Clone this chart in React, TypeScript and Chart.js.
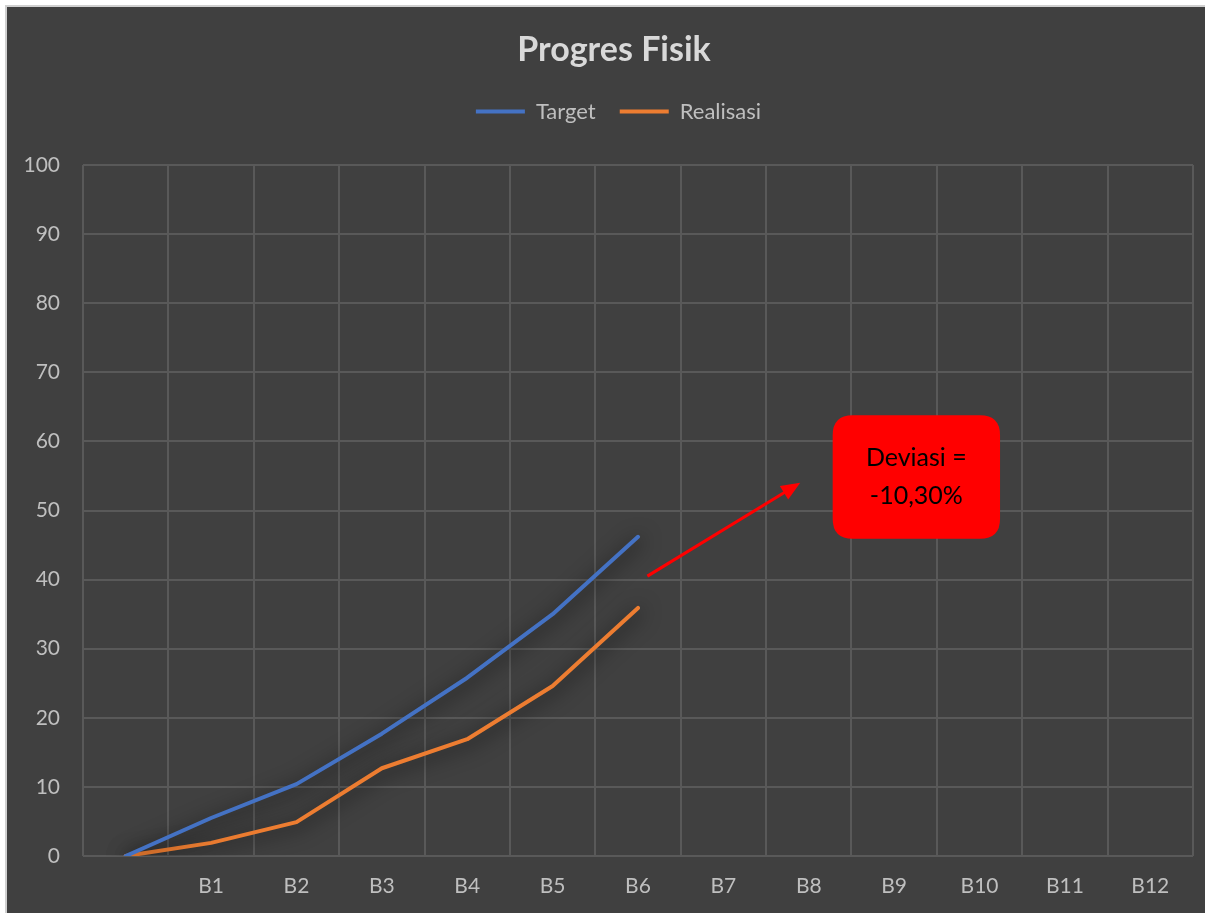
import { useEffect, useRef } from 'react';
import { Chart, registerables } from 'chart.js';

Chart.register(...registerables);

const CATEGORIES = ['', 'B1', 'B2', 'B3', 'B4', 'B5', 'B6', 'B7', 'B8', 'B9', 'B10', 'B11', 'B12'];
const TARGET = [0, 5.5, 10.4, 17.7, 25.8, 35.0, 46.2];
const REALISASI = [0, 1.9, 4.9, 12.7, 16.9, 24.6, 35.9];
const SERIES_NAMES = ['Target', 'Realisasi'];
const SERIES_COLORS = ['#4472C4', '#ED7D31'];
const TITLE = 'Progres Fisik';
const Y_MIN = 0;
const Y_MAX = 100;
const Y_STEP = 10;

const FONT = 'Lato, "Open Sans", sans-serif';

const W = 1198;
const H = 906;

function deviationText(): string[] {
  const t = TARGET[TARGET.length - 1];
  const r = REALISASI[REALISASI.length - 1];
  const d = (r - t).toFixed(2).replace('.', ',');
  return ['Deviasi =', d + '%'];
}

const shadowPlugin = {
  id: 'lineShadow',
  beforeDatasetDraw(chart: any) {
    const ctx = chart.ctx;
    ctx.save();
    ctx.shadowColor = 'rgba(0,0,0,0.85)';
    ctx.shadowBlur = 20;
    ctx.shadowOffsetX = 2;
    ctx.shadowOffsetY = 3;
  },
  afterDatasetDraw(chart: any) {
    chart.ctx.restore();
  },
};

const placePlugin = {
  id: 'placeBlocks',
  afterLayout(chart: any) {
    const tb = chart.titleBlock;
    if (tb) {
      const h = tb.bottom - tb.top;
      tb.top = 0;
      tb.bottom = h;
      tb.left = 28;
    }
    const lg = chart.legend;
    if (lg) {
      const h = lg.bottom - lg.top;
      lg.top = 69.5;
      lg.bottom = 69.5 + h;
      lg.left = 37;
    }
  },
};

const annotationPlugin = {
  id: 'deviasiBox',
  afterDatasetsDraw(chart: any) {
    const { ctx, scales } = chart;
    const xs = scales.x;
    const ys = scales.y;
    const px = (v: number) => xs.getPixelForValue(v);
    const py = (v: number) => ys.getPixelForValue(v);

    // arrow
    const x1 = px(6.11), y1 = py(40.5);
    const x2 = px(7.9), y2 = py(54.0);
    const ang = Math.atan2(y2 - y1, x2 - x1);
    const headLen = 19;
    const headW = 8;
    ctx.save();
    ctx.strokeStyle = '#FF0000';
    ctx.fillStyle = '#FF0000';
    ctx.lineWidth = 3;
    ctx.beginPath();
    ctx.moveTo(x1, y1);
    ctx.lineTo(x2 - Math.cos(ang) * headLen * 0.8, y2 - Math.sin(ang) * headLen * 0.8);
    ctx.stroke();
    const bx = x2 - Math.cos(ang) * headLen;
    const by = y2 - Math.sin(ang) * headLen;
    ctx.beginPath();
    ctx.moveTo(x2, y2);
    ctx.lineTo(bx + Math.sin(ang) * headW, by - Math.cos(ang) * headW);
    ctx.lineTo(bx - Math.sin(ang) * headW, by + Math.cos(ang) * headW);
    ctx.closePath();
    ctx.fill();

    // box
    const l = px(8.28), r = px(10.24);
    const t = py(63.8), b = py(45.9);
    const rad = 20;
    ctx.beginPath();
    ctx.moveTo(l + rad, t);
    ctx.lineTo(r - rad, t);
    ctx.quadraticCurveTo(r, t, r, t + rad);
    ctx.lineTo(r, b - rad);
    ctx.quadraticCurveTo(r, b, r - rad, b);
    ctx.lineTo(l + rad, b);
    ctx.quadraticCurveTo(l, b, l, b - rad);
    ctx.lineTo(l, t + rad);
    ctx.quadraticCurveTo(l, t, l + rad, t);
    ctx.closePath();
    ctx.fill();

    const lines = deviationText();
    ctx.fillStyle = '#000000';
    ctx.font = '25px ' + FONT;
    ctx.textAlign = 'center';
    ctx.textBaseline = 'middle';
    const cx = (l + r) / 2;
    const cy = (t + b) / 2;
    ctx.fillText(lines[0], cx, cy - 19);
    ctx.fillText(lines[1], cx, cy + 19);
    ctx.restore();
  },
};

const bgPlugin = {
  id: 'bg',
  beforeDraw(chart: any) {
    const ctx = chart.ctx;
    ctx.save();
    ctx.fillStyle = '#404040';
    ctx.fillRect(0, 0, chart.width, chart.height);
    ctx.restore();
  },
};

export default function App() {
  const ref = useRef<HTMLCanvasElement | null>(null);

  useEffect(() => {
    if (!ref.current) return;
    const chart = new Chart(ref.current, {
      type: 'line',
      data: {
        labels: CATEGORIES,
        datasets: [
          {
            label: SERIES_NAMES[0],
            data: TARGET,
            borderColor: SERIES_COLORS[0],
            backgroundColor: SERIES_COLORS[0],
            borderWidth: 4,
            borderCapStyle: 'round',
            borderJoinStyle: 'round',
            pointRadius: 0,
            tension: 0,
          },
          {
            label: SERIES_NAMES[1],
            data: REALISASI,
            borderColor: SERIES_COLORS[1],
            backgroundColor: SERIES_COLORS[1],
            borderWidth: 4,
            borderCapStyle: 'round',
            borderJoinStyle: 'round',
            pointRadius: 0,
            tension: 0,
          },
        ],
      },
      options: {
        responsive: false,
        animation: false,
        devicePixelRatio: 1,
        layout: { padding: { left: 0, right: 12, top: 0, bottom: 0 } },
        plugins: {
          title: {
            display: true,
            text: TITLE,
            color: '#D9D9D9',
            font: { family: FONT, size: 34, weight: 'bold', lineHeight: 1.2 },
            padding: { top: 23, bottom: 8 },
          },
          legend: {
            display: true,
            labels: {
              color: '#BFBFBF',
              font: { family: FONT, size: 22 },
              usePointStyle: true,
              pointStyle: 'line',
              pointStyleWidth: 49,
              padding: 24,
            },
          },
          tooltip: { enabled: false },
        },
        scales: {
          x: {
            type: 'category',
            offset: true,
            grid: { color: '#595959', lineWidth: 2, offset: true, drawTicks: false },
            border: { display: false },
            ticks: {
              color: '#BFBFBF',
              font: { family: FONT, size: 21 },
              padding: 18,
              maxRotation: 0,
              autoSkip: false,
            },
            afterFit(scale: any) {
              scale.height = 57;
            },
          },
          y: {
            min: Y_MIN,
            max: Y_MAX,
            grid: { color: '#595959', lineWidth: 2, drawTicks: false },
            border: { display: false },
            ticks: {
              stepSize: Y_STEP,
              color: '#BFBFBF',
              font: { family: FONT, size: 21 },
              padding: 23,
            },
            afterFit(scale: any) {
              scale.width = 76;
              scale.paddingTop = 158;
            },
          },
        },
      },
      plugins: [bgPlugin, placePlugin, shadowPlugin, annotationPlugin],
    } as any);
    return () => chart.destroy();
  }, []);

  return (
    <div
      style={{
        position: 'fixed',
        left: 0,
        top: 0,
        width: 1205,
        height: 913,
        background: '#FFFFFF',
        overflow: 'hidden',
      }}
    >
      <div
        style={{
          position: 'absolute',
          left: 5,
          top: 5,
          width: 1200,
          height: 908,
          background: '#D0D0D0',
        }}
      />
      <canvas
        ref={ref}
        width={W}
        height={H}
        style={{ position: 'absolute', left: 7, top: 7, width: W, height: H, display: 'block' }}
      />
    </div>
  );
}
